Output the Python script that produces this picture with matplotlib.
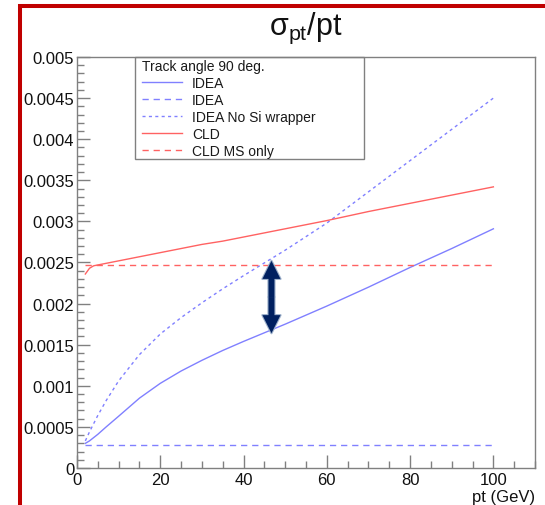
import matplotlib
matplotlib.use("Agg")
import matplotlib.pyplot as plt
import matplotlib.patheffects as pe
from matplotlib.lines import Line2D
from matplotlib.patches import Rectangle
from matplotlib.ticker import MultipleLocator, FuncFormatter

plt.rcParams['font.family'] = ['Liberation Sans', 'DejaVu Sans']
plt.rcParams['mathtext.fontset'] = 'custom'
plt.rcParams['mathtext.rm'] = 'Liberation Sans'
plt.rcParams['mathtext.it'] = 'Liberation Sans:italic'

# --- data (pt in GeV, sigma_pt/pt) ---
pt = [2, 3, 4, 5, 7, 10, 15, 20, 25, 30, 35, 40, 50, 60, 70, 80, 90, 100]
idea = [0.00030, 0.00033, 0.00037, 0.00041, 0.00050, 0.00063, 0.00085, 0.00103, 0.00118,
        0.00131, 0.00143, 0.00154, 0.00175, 0.00197, 0.00220, 0.00244, 0.00267, 0.00291]
idea_ms = [0.00028] * len(pt)
idea_no_si = [0.00033, 0.00044, 0.00054, 0.00064, 0.00082, 0.00106, 0.00138, 0.00163, 0.00183,
              0.00201, 0.00218, 0.00234, 0.00265, 0.00298, 0.00336, 0.00374, 0.00412, 0.00450]
cld = [0.00236, 0.00243, 0.00246, 0.00247, 0.00249, 0.00252, 0.00257, 0.00262, 0.00267,
       0.00272, 0.00276, 0.00281, 0.00291, 0.00301, 0.00312, 0.00322, 0.00332, 0.00342]
cld_ms = [0.00247] * len(pt)

labels = ['IDEA', 'IDEA', 'IDEA No Si wrapper', 'CLD', 'CLD MS only']
legend_title = 'Track angle 90 deg.'

# overlay arrow from the slide (pt, top tip, bottom tip)
ARROW_PT = 46.7
ARROW_TOP = 0.00252
ARROW_BOTTOM = 0.00164

BLUE = '#8080ff'
RED = '#ff6262'
FRAME = '#808080'

fig = plt.figure(figsize=(5.45, 5.06), dpi=100)
ax = fig.add_axes([0.1413, 0.0731, 0.8404, 0.8123])

h1, = ax.plot(pt, idea, color=BLUE, lw=1.0)
h2, = ax.plot(pt, idea_ms, color=BLUE, lw=1.0, dashes=(4.5, 3.5))
h3, = ax.plot(pt, idea_no_si, color=BLUE, lw=1.0, dashes=(2.2, 2.4))
h4, = ax.plot(pt, cld, color=RED, lw=1.0)
h5, = ax.plot(pt, cld_ms, color=RED, lw=1.0, dashes=(4.5, 3.5))

ax.set_xlim(0, 110)
ax.set_ylim(0, 0.005)
ax.xaxis.set_major_locator(MultipleLocator(20))
ax.xaxis.set_minor_locator(MultipleLocator(5))
ax.yaxis.set_major_locator(MultipleLocator(0.0005))
ax.yaxis.set_minor_locator(MultipleLocator(0.0001))
ax.yaxis.set_major_formatter(FuncFormatter(lambda v, p: f'{v:g}'))
ax.xaxis.set_major_formatter(FuncFormatter(lambda v, p: f'{v:g}'))
ax.tick_params(which='both', direction='in', top=False, right=False,
               color=FRAME, labelcolor='#111111', labelsize=12)
ax.tick_params(which='major', length=9.4, width=1)
ax.tick_params(which='minor', length=5, width=1)
ax.tick_params(axis='y', pad=2)
ax.tick_params(axis='x', pad=3)
for s in ax.spines.values():
    s.set_color(FRAME)
    s.set_linewidth(1)

ax.set_xlabel('pt (GeV)', loc='right', fontsize=12, labelpad=1.5, color='#111111')

# legend (frame drawn separately so it matches the ROOT box)
leg = ax.legend([h1, h2, h3, h4, h5], labels, title=legend_title, loc='upper left',
                bbox_to_anchor=(0.1419, 0.996), frameon=False, fontsize=10,
                title_fontsize=10, alignment='left', handlelength=2.9,
                handletextpad=0.7, labelspacing=0.22, borderpad=0, borderaxespad=0)
for t in leg.get_texts():
    t.set_color('#1a1a1a')
leg.get_title().set_color('#1a1a1a')
ax.add_patch(Rectangle((0.1266, 0.7518), 0.5, 0.2482, transform=ax.transAxes,
                       fill=False, edgecolor=FRAME, lw=1, clip_on=False))

# double arrow overlay: two filled halves, outlined first then filled
mid = (ARROW_TOP + ARROW_BOTTOM) / 2
style = 'simple,head_length=1,head_width=1,tail_width=0.33'
for outline in (True, False):
    for tip in (ARROW_TOP, ARROW_BOTTOM):
        a = ax.annotate('', xy=(ARROW_PT, tip), xytext=(ARROW_PT, mid),
                        arrowprops=dict(arrowstyle=style, mutation_scale=13, color='#002060',
                                        lw=0, shrinkA=0, shrinkB=0))
        if outline:
            a.arrow_patch.set_path_effects([pe.Stroke(linewidth=1.6, foreground='#9fb2cc')])

fig.text(306 / 545, 1 - 35 / 506, r'$\mathrm{σ}_{\mathrm{pt}}$/pt', ha='center',
         va='baseline', fontsize=22, color='#111111')

# red slide border
fig.add_artist(Line2D([18 / 545, 1], [1 - 7 / 506, 1 - 7 / 506], color='#c00000', lw=2.9,
                      transform=fig.transFigure, solid_capstyle='butt'))
fig.add_artist(Line2D([19.5 / 545, 19.5 / 545], [0, 1 - 5 / 506], color='#c00000', lw=2.9,
                      transform=fig.transFigure, solid_capstyle='butt'))

fig.savefig('out.png', dpi=100)
